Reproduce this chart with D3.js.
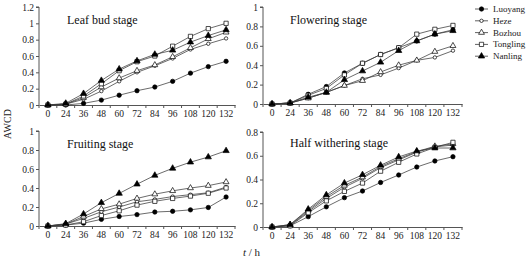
<!DOCTYPE html>
<html><head><meta charset="utf-8">
<script src="https://cdn.jsdelivr.net/npm/d3@7"></script>
<style>
body{margin:0;background:#fff;}
svg{display:block;font-family:"Liberation Serif","Times New Roman",serif;}
</style></head>
<body><svg id="c" width="529" height="260"></svg>
<script>
const hours = ["0","24","36","48","60","72","84","96","108","120","132"];
const seriesNames = ["Luoyang","Heze","Bozhou","Tongling","Nanling"];
const panelTitles = ["Leaf bud stage","Flowering stage","Fruiting stage","Half withering stage"];
const yTicks1 = [0,0.2,0.4,0.6,0.8,1,1.2];
const yTicks2 = [0,0.2,0.4,0.6,0.8,1];
const yTicks3 = [0,0.2,0.4,0.6,0.8,1];
const yTicks4 = [0,0.2,0.4,0.6,0.8];

// Leaf bud stage
const leafLuoyang  = [0,0,0.02,0.06,0.12,0.175,0.22,0.29,0.39,0.47,0.535];
const leafHeze     = [0,0.01,0.07,0.17,0.29,0.40,0.48,0.57,0.68,0.75,0.815];
const leafBozhou   = [0,0.01,0.09,0.22,0.33,0.42,0.49,0.59,0.70,0.81,0.89];
const leafTongling = [0,0.01,0.11,0.26,0.42,0.53,0.60,0.72,0.84,0.935,1.0];
const leafNanling  = [0,0.02,0.14,0.30,0.44,0.54,0.62,0.67,0.77,0.85,0.92];
// Flowering stage
const flowLuoyang  = [0,0.01,0.10,0.18,0.32,0.42,0.51,0.58,0.65,0.72,0.765];
const flowHeze     = [0,0.01,0.06,0.12,0.19,0.26,0.30,0.37,0.45,0.48,0.55];
const flowBozhou   = [0,0.01,0.06,0.12,0.19,0.24,0.33,0.40,0.45,0.54,0.60];
const flowTongling = [0,0.01,0.09,0.16,0.30,0.42,0.51,0.58,0.72,0.77,0.81];
const flowNanling  = [0,0.01,0.07,0.12,0.25,0.34,0.43,0.55,0.65,0.72,0.755];
// Fruiting stage
const fruitLuoyang  = [0,0.01,0.03,0.07,0.10,0.12,0.147,0.155,0.17,0.195,0.305];
const fruitHeze     = [0,0.02,0.08,0.15,0.20,0.255,0.28,0.31,0.33,0.35,0.41];
const fruitBozhou   = [0,0.02,0.10,0.18,0.23,0.29,0.335,0.37,0.40,0.425,0.463];
const fruitTongling = [0,0.01,0.045,0.11,0.16,0.22,0.26,0.29,0.315,0.345,0.40];
const fruitNanling  = [0,0.025,0.126,0.245,0.343,0.44,0.533,0.607,0.672,0.726,0.792];
// Half withering stage
const halfLuoyang  = [0,0.01,0.087,0.17,0.247,0.303,0.375,0.438,0.505,0.556,0.592];
const halfHeze     = [0,0.015,0.13,0.24,0.335,0.41,0.50,0.565,0.63,0.675,0.69];
const halfBozhou   = [0,0.02,0.14,0.255,0.35,0.42,0.51,0.575,0.635,0.68,0.70];
const halfTongling = [0,0.01,0.12,0.22,0.30,0.37,0.47,0.545,0.615,0.67,0.713];
const halfNanling  = [0,0.02,0.15,0.27,0.37,0.44,0.52,0.59,0.64,0.665,0.665];

const panelData = [
  [leafLuoyang,leafHeze,leafBozhou,leafTongling,leafNanling],
  [flowLuoyang,flowHeze,flowBozhou,flowTongling,flowNanling],
  [fruitLuoyang,fruitHeze,fruitBozhou,fruitTongling,fruitNanling],
  [halfLuoyang,halfHeze,halfBozhou,halfTongling,halfNanling]
];
const panelTicks = [yTicks1,yTicks2,yTicks3,yTicks4];

const layout = [
  {x0:39, x1:235, yb:105, yt:7,   title:[67,24]},
  {x0:263,x1:462, yb:104, yt:7,   title:[290,24]},
  {x0:39, x1:235, yb:226, yt:131, title:[67,148]},
  {x0:263,x1:462, yb:227, yt:132, title:[290,147]}
];

const markers = [
  {type:d3.symbolCircle,  size:15, fill:"#000"},
  {type:d3.symbolCircle,  size:9,  fill:"#fff"},
  {type:d3.symbolTriangle,size:15, fill:"#fff"},
  {type:d3.symbolSquare,  size:18, fill:"#fff"},
  {type:d3.symbolTriangle,size:17, fill:"#000"}
];

const svg = d3.select("#c");
const lineCol = "#3a3a3a";

panelData.forEach((series, pi) => {
  const L = layout[pi];
  const ticks = panelTicks[pi];
  const x = d3.scaleBand().domain(hours).range([L.x0, L.x1]).padding(0);
  const xc = h => x(h) + x.bandwidth()/2;
  const y = d3.scaleLinear().domain([0, ticks[ticks.length-1]]).range([L.yb, L.yt]);
  const g = svg.append("g");

  // y axis
  const ya = g.append("g").attr("transform",`translate(${L.x0},0)`)
    .call(d3.axisLeft(y).tickValues(ticks).tickSize(3).tickFormat(d => String(+d.toFixed(1))));
  ya.select(".domain").attr("stroke","#555").attr("d",`M-3,${L.yt}H0V${L.yb}`);
  ya.selectAll(".tick line").attr("stroke","#555");
  ya.selectAll("text").attr("font-family","Liberation Serif").attr("font-size",9.5).attr("fill","#222").attr("x",-5);

  // x axis
  const xa = g.append("g").attr("transform",`translate(0,${L.yb})`)
    .call(d3.axisBottom(x).tickSize(0).tickPadding(5));
  xa.select(".domain").attr("stroke","#555");
  xa.selectAll("text").attr("font-family","Liberation Serif").attr("font-size",9.5).attr("fill","#222");
  const bounds = hours.map(h => x(h)).concat([L.x1]);
  xa.selectAll("line.bt").data(bounds).join("line").attr("class","bt")
    .attr("x1",d=>d).attr("x2",d=>d).attr("y1",0).attr("y2",3).attr("stroke","#555");

  // title
  g.append("text").attr("x",L.title[0]).attr("y",L.title[1])
    .attr("font-size",12).attr("fill","#111").text(panelTitles[pi]);

  // lines
  const line = d3.line().x((d,i)=>xc(hours[i])).y(d=>y(d));
  series.forEach((vals, si) => {
    g.append("path").attr("d", line(vals)).attr("fill","none")
      .attr("stroke",lineCol).attr("stroke-width",0.75);
  });
  series.forEach((vals, si) => {
    const m = markers[si];
    g.selectAll(null).data(vals).join("path")
      .attr("transform",(d,i)=>`translate(${xc(hours[i])},${y(d)})`)
      .attr("d", d3.symbol().type(m.type).size(m.size))
      .attr("fill", m.fill).attr("stroke","#000").attr("stroke-width",0.7);
  });
});

// Axis titles
svg.append("text").attr("transform","translate(11,124) rotate(-90)")
  .attr("text-anchor","middle").attr("font-size",10).attr("fill","#222").text("AWCD");
const th = svg.append("text").attr("x",243).attr("y",256).attr("font-size",11).attr("fill","#222");
th.append("tspan").attr("font-style","italic").text("t");
th.append("tspan").text(" / h");

// Legend
const lg = svg.append("g");
seriesNames.forEach((n, i) => {
  const yy = 9 + i*11.8;
  lg.append("line").attr("x1",475).attr("x2",488).attr("y1",yy).attr("y2",yy)
    .attr("stroke",lineCol).attr("stroke-width",0.8);
  const m = markers[i];
  lg.append("path").attr("transform",`translate(481.5,${yy})`)
    .attr("d", d3.symbol().type(m.type).size(m.size))
    .attr("fill", m.fill).attr("stroke","#000").attr("stroke-width",0.7);
  lg.append("text").attr("x",493).attr("y",yy+3).attr("font-size",9).attr("fill","#222").text(n);
});
</script>
</body></html>
